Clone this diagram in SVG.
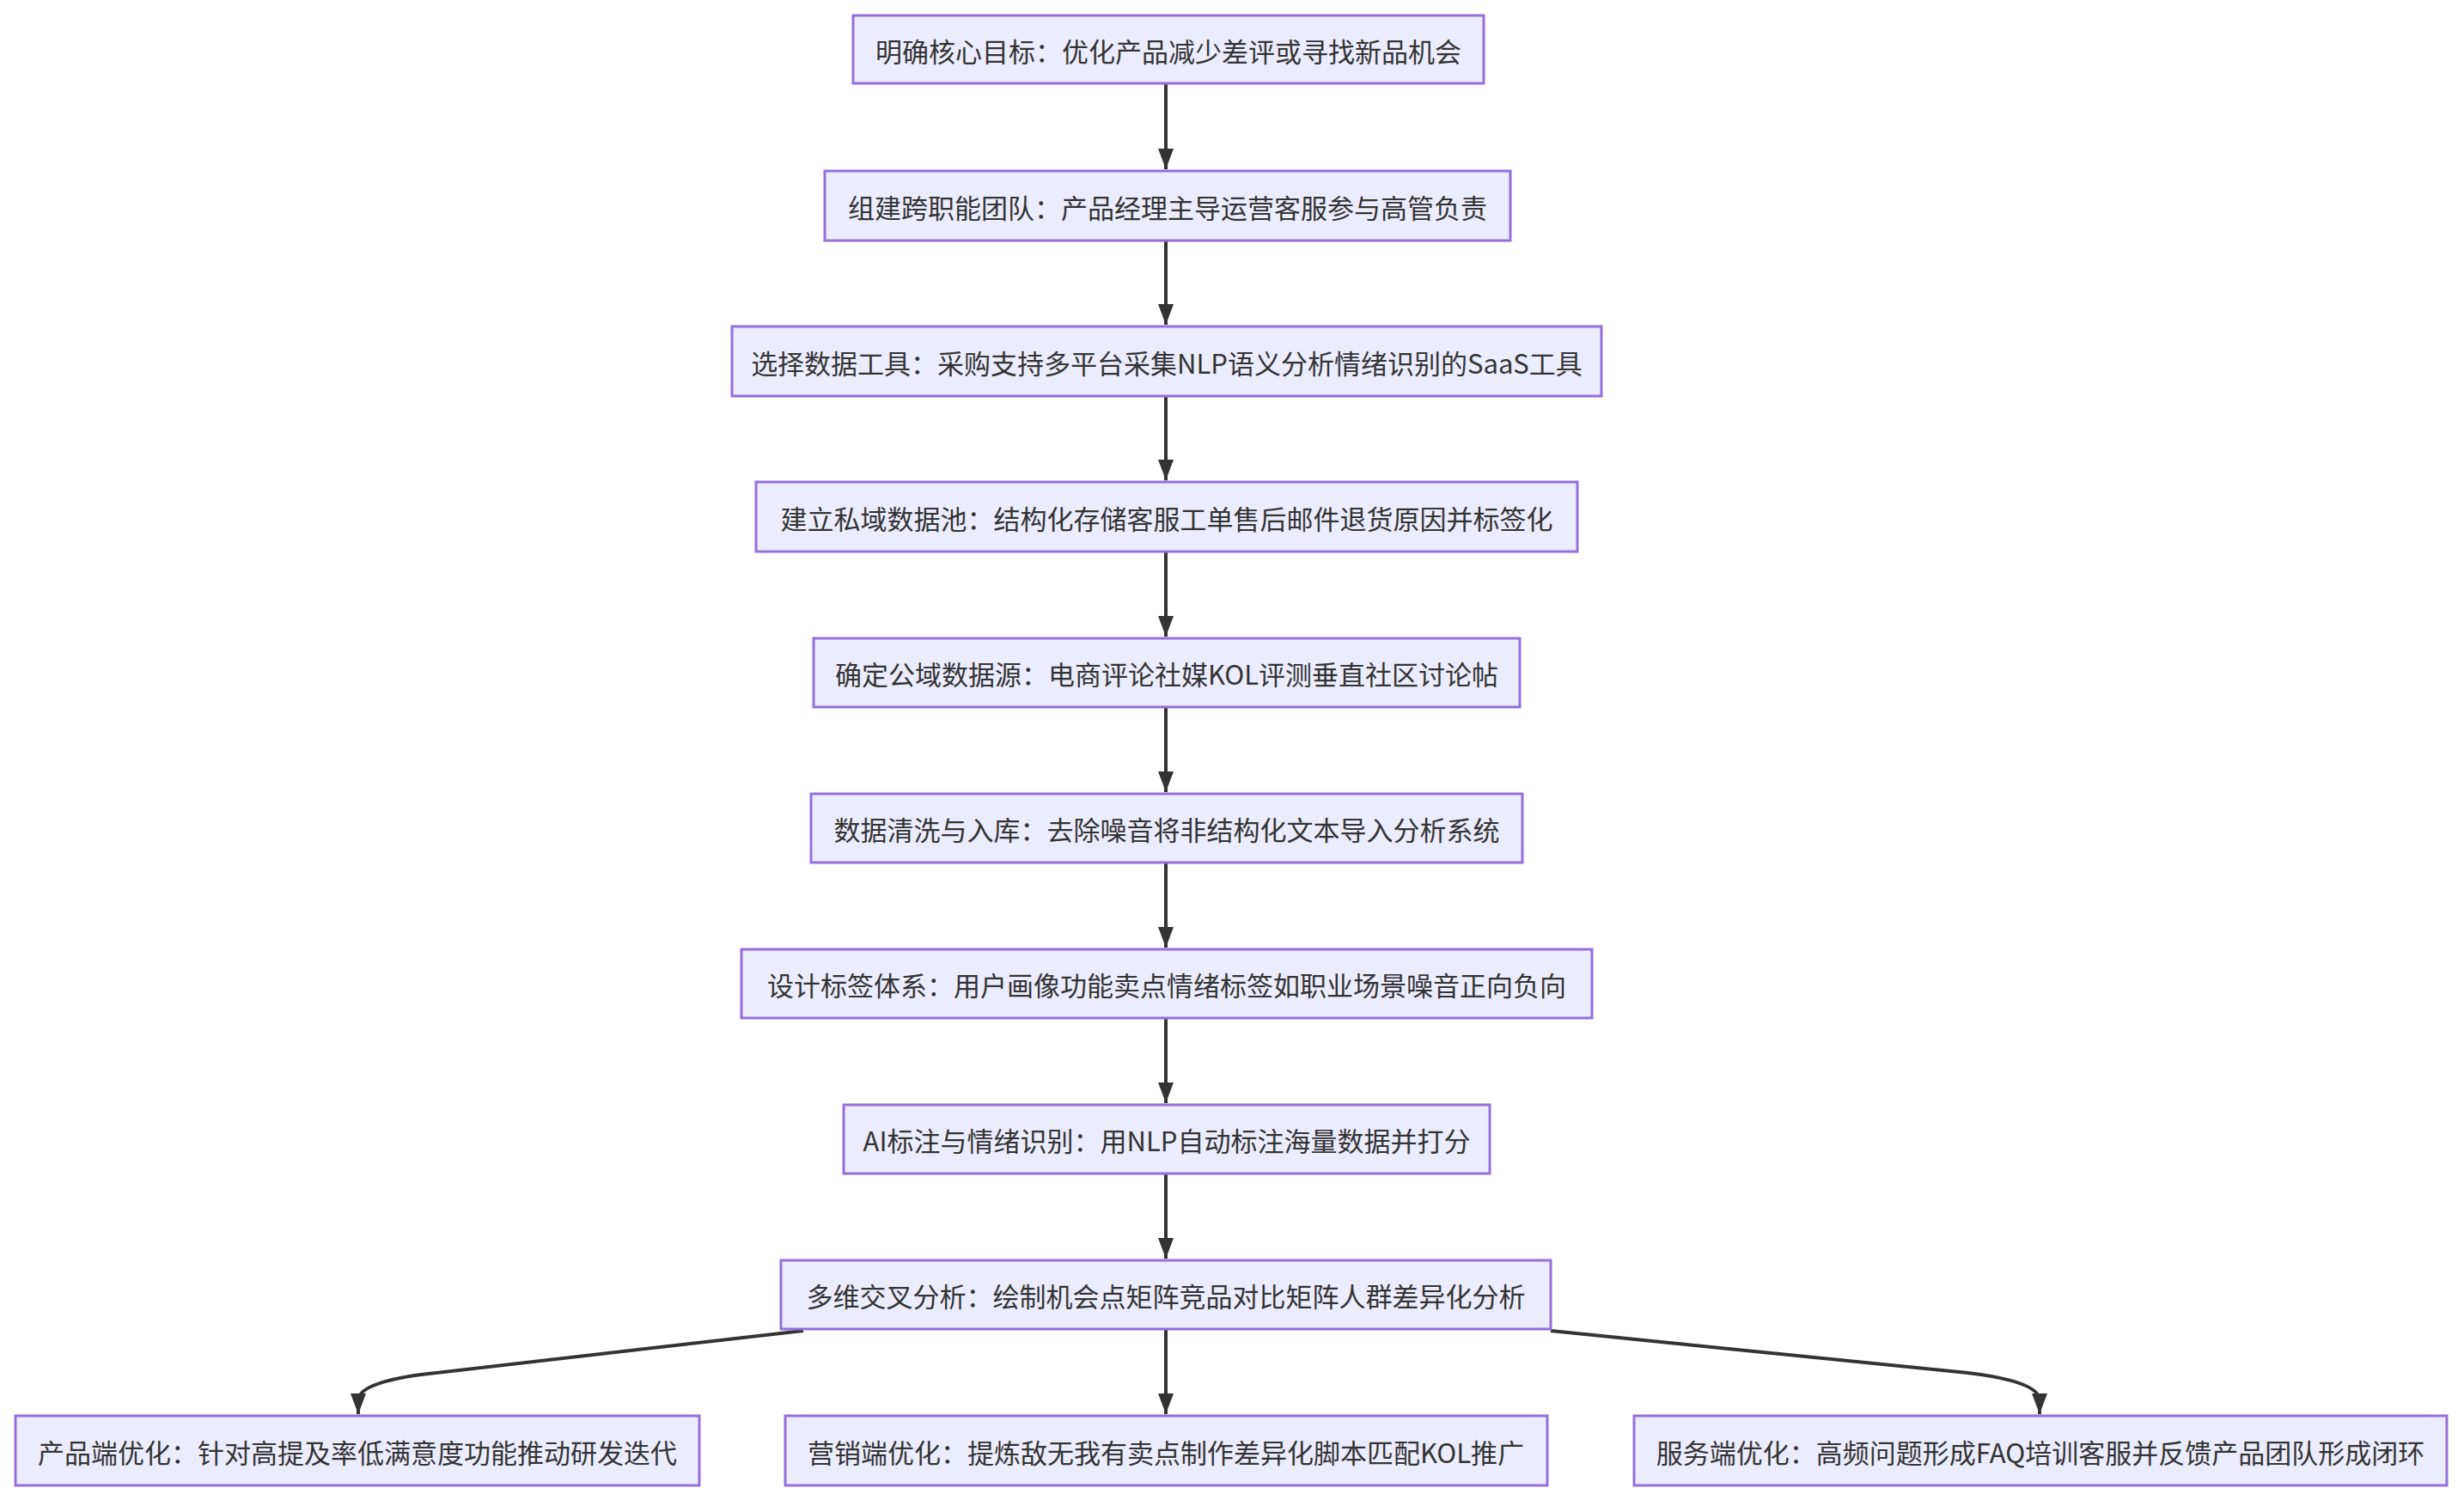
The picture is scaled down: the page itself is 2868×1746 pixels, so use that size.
<svg xmlns="http://www.w3.org/2000/svg" width="2868" height="1746" viewBox="0 0 2868 1746">
<style>
.n rect{fill:#ECECFF;stroke:#9370DB;stroke-width:3}
.n text{font-family:"Noto Sans CJK SC","Noto Sans",sans-serif;font-size:31px;fill:#333;text-anchor:middle;dominant-baseline:central}
.e path{fill:none;stroke:#333;stroke-width:4}
</style>
<defs><marker id="a" markerUnits="userSpaceOnUse" markerWidth="30" markerHeight="30" refX="24" refY="15" orient="auto"><path d="M0,6 L24,15 L0,24 Z" fill="#333"/></marker></defs>
<rect width="2868" height="1746" fill="#fff"/>
<g class="e">
<path d="M1357,97 V197" marker-end="url(#a)"/>
<path d="M1357,280 V378" marker-end="url(#a)"/>
<path d="M1357,461 V559" marker-end="url(#a)"/>
<path d="M1357,642 V741" marker-end="url(#a)"/>
<path d="M1357,823 V922" marker-end="url(#a)"/>
<path d="M1357,1004 V1103" marker-end="url(#a)"/>
<path d="M1357,1185 V1284" marker-end="url(#a)"/>
<path d="M1357,1366 V1465" marker-end="url(#a)"/>
<path d="M1357,1547 V1646" marker-end="url(#a)"/>
<path d="M935,1549 L490,1600 Q417,1610 417,1630 V1646" marker-end="url(#a)"/>
<path d="M1805,1549 L2290,1598 Q2374,1608 2374,1630 V1646" marker-end="url(#a)"/>
</g>
<g id="n1" class="n"><rect x="993" y="18" width="734" height="79"/><text x="1360" y="58">明确核心目标：优化产品减少差评或寻找新品机会</text></g>
<g id="n2" class="n"><rect x="960" y="199" width="798" height="81"/><text x="1359" y="240">组建跨职能团队：产品经理主导运营客服参与高管负责</text></g>
<g id="n3" class="n"><rect x="852" y="380" width="1012" height="81"/><text x="1358" y="421">选择数据工具：采购支持多平台采集NLP语义分析情绪识别的SaaS工具</text></g>
<g id="n4" class="n"><rect x="880" y="561" width="956" height="81"/><text x="1358" y="602">建立私域数据池：结构化存储客服工单售后邮件退货原因并标签化</text></g>
<g id="n5" class="n"><rect x="947" y="743" width="822" height="80"/><text x="1358" y="783">确定公域数据源：电商评论社媒KOL评测垂直社区讨论帖</text></g>
<g id="n6" class="n"><rect x="944" y="924" width="828" height="80"/><text x="1358" y="964">数据清洗与入库：去除噪音将非结构化文本导入分析系统</text></g>
<g id="n7" class="n"><rect x="863" y="1105" width="990" height="80"/><text x="1358" y="1145">设计标签体系：用户画像功能卖点情绪标签如职业场景噪音正向负向</text></g>
<g id="n8" class="n"><rect x="982" y="1286" width="752" height="80"/><text x="1358" y="1326">AI标注与情绪识别：用NLP自动标注海量数据并打分</text></g>
<g id="n9" class="n"><rect x="909" y="1467" width="896" height="80"/><text x="1357" y="1507">多维交叉分析：绘制机会点矩阵竞品对比矩阵人群差异化分析</text></g>
<g id="n10" class="n"><rect x="18" y="1648" width="796" height="81"/><text x="416" y="1689">产品端优化：针对高提及率低满意度功能推动研发迭代</text></g>
<g id="n11" class="n"><rect x="914" y="1648" width="887" height="81"/><text x="1357" y="1689">营销端优化：提炼敌无我有卖点制作差异化脚本匹配KOL推广</text></g>
<g id="n12" class="n"><rect x="1902" y="1648" width="946" height="81"/><text x="2375" y="1689">服务端优化：高频问题形成FAQ培训客服并反馈产品团队形成闭环</text></g>
</svg>
